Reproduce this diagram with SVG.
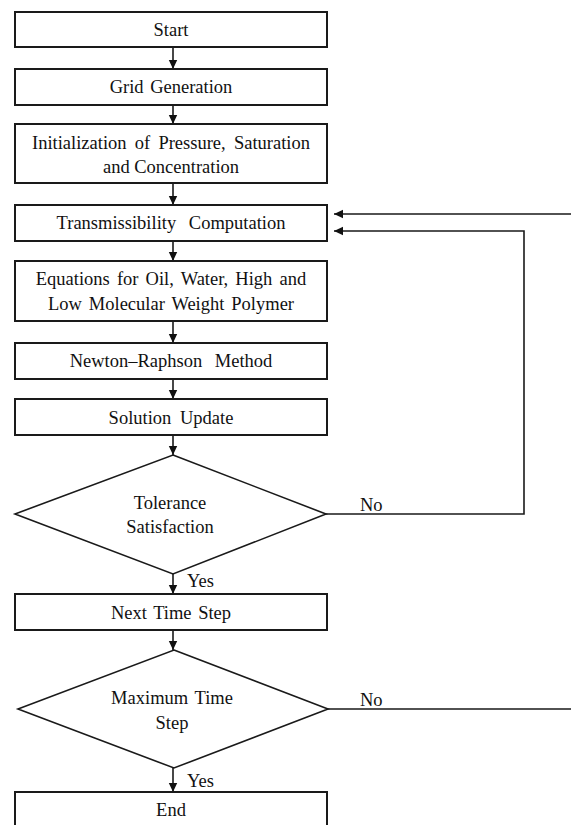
<svg xmlns="http://www.w3.org/2000/svg" width="571" height="825" viewBox="0 0 571 825">
<style>
.box{fill:#fff;stroke:#1a1a1a;stroke-width:2}
.dia{fill:#fff;stroke:#1a1a1a;stroke-width:1.6}
.t{font-family:"Liberation Serif","Times New Roman",serif;font-size:18.5px;fill:#111;text-anchor:middle}
.l{font-family:"Liberation Serif","Times New Roman",serif;font-size:18.5px;fill:#111}
.c{fill:none;stroke:#1a1a1a;stroke-width:1.6}
</style>
<defs>
<marker id="ah" markerWidth="10" markerHeight="10" refX="9" refY="5" orient="auto" markerUnits="userSpaceOnUse">
<path d="M0,0.8 L9,5 L0,9.2 z" fill="#111"/>
</marker>
</defs>
<rect width="571" height="825" fill="#fff"/>
<g id="connectors">
<path class="c" d="M173 47 V69" marker-end="url(#ah)"/>
<path class="c" d="M173 105 V124" marker-end="url(#ah)"/>
<path class="c" d="M173 183 V205" marker-end="url(#ah)"/>
<path class="c" d="M173 241 V261" marker-end="url(#ah)"/>
<path class="c" d="M173 321 V343" marker-end="url(#ah)"/>
<path class="c" d="M173 379 V399" marker-end="url(#ah)"/>
<path class="c" d="M173 435 V455" marker-end="url(#ah)"/>
<path class="c" d="M173 574 V594" marker-end="url(#ah)"/>
<path class="c" d="M173 630 V650" marker-end="url(#ah)"/>
<path class="c" d="M173 768 V792" marker-end="url(#ah)"/>
<path class="c" d="M326 514 H524 V231 H334" marker-end="url(#ah)"/>
<path class="c" d="M328 709 H580 V214 H334" marker-end="url(#ah)"/>
<text class="l" x="360" y="511">No</text>
<text class="l" x="187" y="587">Yes</text>
<text class="l" x="360" y="706">No</text>
<text class="l" x="187" y="787">Yes</text>
</g>
<g id="start">
<rect class="box" x="15" y="12" width="312" height="35"/>
<text class="t" x="171" y="35.5">Start</text>
</g>
<g id="grid">
<rect class="box" x="15" y="69" width="312" height="36"/>
<text class="t" x="171" y="93" word-spacing="2">Grid Generation</text>
</g>
<g id="init">
<rect class="box" x="15" y="124" width="312" height="59"/>
<text class="t" x="171" y="148.5" word-spacing="3.6">Initialization of Pressure, Saturation</text>
<text class="t" x="171" y="173">and Concentration</text>
</g>
<g id="trans">
<rect class="box" x="15" y="205" width="312" height="36"/>
<text class="t" x="171" y="229" word-spacing="8">Transmissibility Computation</text>
</g>
<g id="equations">
<rect class="box" x="15" y="261" width="312" height="60"/>
<text class="t" x="171" y="285" word-spacing="2.5">Equations for Oil, Water, High and</text>
<text class="t" x="171" y="310" word-spacing="2.3">Low Molecular Weight Polymer</text>
</g>
<g id="newton">
<rect class="box" x="15" y="343" width="312" height="36"/>
<text class="t" x="171" y="366.5" word-spacing="8">Newton–Raphson Method</text>
</g>
<g id="update">
<rect class="box" x="15" y="399" width="312" height="36"/>
<text class="t" x="171" y="424" word-spacing="4">Solution Update</text>
</g>
<g id="tolerance">
<polygon class="dia" points="173,455 326,514 173,574 15,514"/>
<text class="t" x="170" y="508.5">Tolerance</text>
<text class="t" x="170" y="532.5">Satisfaction</text>
</g>
<g id="next">
<rect class="box" x="15" y="594" width="312" height="36"/>
<text class="t" x="171" y="618.5" word-spacing="2">Next Time Step</text>
</g>
<g id="maxtime">
<polygon class="dia" points="174,650 328,709 174,768 18,709"/>
<text class="t" x="172" y="703.5" word-spacing="2">Maximum Time</text>
<text class="t" x="172" y="728.5">Step</text>
</g>
<g id="end">
<rect class="box" x="15" y="792" width="312" height="50"/>
<text class="t" x="171" y="816">End</text>
</g>
</svg>
